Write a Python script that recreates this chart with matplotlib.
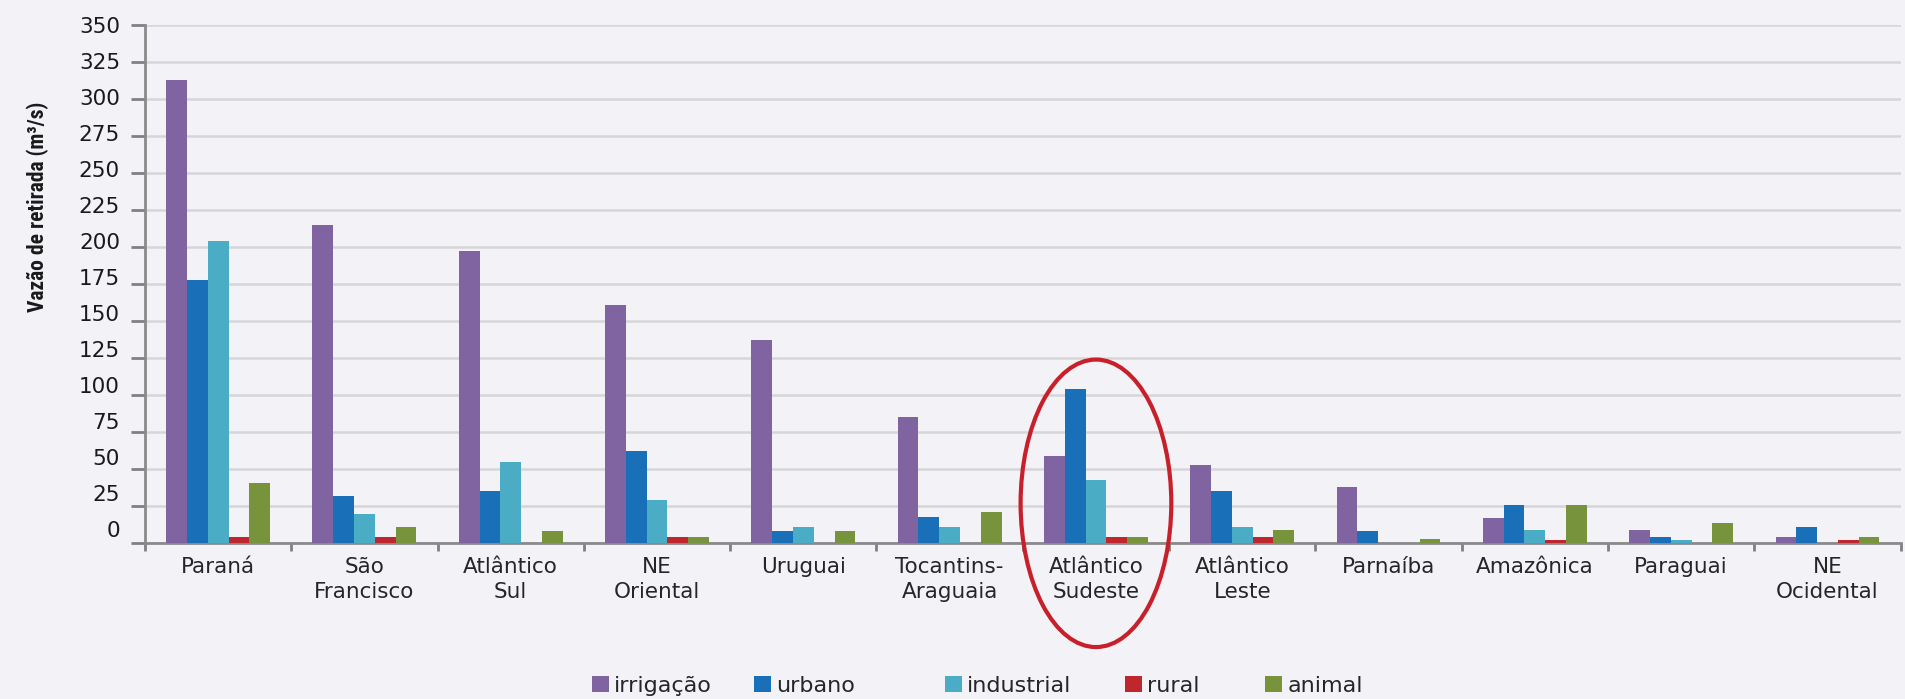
import matplotlib
matplotlib.use("Agg")
import matplotlib.pyplot as plt
import numpy as np
from matplotlib.patches import Ellipse, Patch
from matplotlib.ticker import FixedLocator
from matplotlib.transforms import ScaledTranslation
from matplotlib import font_manager

categories = ["Paraná", "São\nFrancisco", "Atlântico\nSul", "NE\nOriental", "Uruguai",
              "Tocantins-\nAraguaia", "Atlântico\nSudeste", "Atlântico\nLeste", "Parnaíba",
              "Amazônica", "Paraguai", "NE\nOcidental"]
series_names = ["irrigação", "urbano", "industrial", "rural", "animal"]
irrigacao = [313, 215, 197, 161, 137, 85, 59, 53, 38, 17, 9, 4.5]
urbano = [178, 32, 35, 62, 8, 18, 104, 35, 8, 26, 4.5, 11]
industrial = [204, 20, 55, 29, 11, 11, 43, 11, 0, 9, 2, 0]
rural = [4.5, 4.5, 0, 4.5, 0, 0, 4.5, 4.5, 0, 2, 0, 2.5]
animal = [41, 11, 8, 4.5, 8, 21, 4.5, 9, 3, 26, 13.5, 4.5]
y_ticks = list(range(0, 351, 25))
colors = ["#8064A2", "#1A70B8", "#4BACC6", "#C0262D", "#77933C"]

# pick a condensed font for the y label if available
avail = {f.name for f in font_manager.fontManager.ttflist}
label_family = None
for cand in ["Liberation Sans Narrow", "Roboto Condensed", "Open Sans Condensed",
             "DejaVu Sans Condensed", "Liberation Sans", "Roboto"]:
    if cand in avail:
        label_family = cand
        break
if label_family is None:
    label_family = "DejaVu Sans"
narrow = label_family in ("Liberation Sans Narrow", "Roboto Condensed",
                          "Open Sans Condensed", "DejaVu Sans Condensed")

bg = "#F3F2F7"
fig = plt.figure(figsize=(19.05, 6.99), dpi=100, facecolor=bg)
ax = fig.add_axes([0.0761, 0.2227, 0.9216, 0.742], facecolor=bg)

x = np.arange(len(categories))
w = 0.142
data = [irrigacao, urbano, industrial, rural, animal]
for i, (vals, name, c) in enumerate(zip(data, series_names, colors)):
    ax.bar(x + (i - 2) * w, vals, width=w, color=c, label=name, zorder=3)

ax.set_xlim(-0.5, len(categories) - 0.5)
ax.set_ylim(0, 350)
ax.set_yticks(y_ticks)
ax.set_yticklabels([str(t) for t in y_ticks], fontsize=15.5, color="#1a1a1a")
ax.grid(axis="y", color="#D6D6D6", linewidth=1.8, zorder=0)
ax.set_axisbelow(True)

ax.set_xticks(x)
ax.set_xticklabels(categories, fontsize=15.5, color="#262626", linespacing=1.3)
ax.xaxis.set_minor_locator(FixedLocator(np.arange(-0.5, len(categories), 1.0)))
ax.tick_params(axis="x", which="major", length=0, pad=10)
ax.tick_params(axis="x", which="minor", length=6, width=2, color="#808080")
ax.tick_params(axis="y", length=10, width=2, color="#808080", pad=8)

# labels in the reference drift upward toward the bottom of the scale
for lab, v in zip(ax.get_yticklabels(), y_ticks):
    shift_px = 14.0 * (1 - v / 350.0)
    lab.set_transform(lab.get_transform() +
                      ScaledTranslation(0, shift_px / 100.0, fig.dpi_scale_trans))

for s in ["top", "right"]:
    ax.spines[s].set_visible(False)
for s in ["left", "bottom"]:
    ax.spines[s].set_color("#8A8A8A")
    ax.spines[s].set_linewidth(2)

ax.set_ylabel("Vazão de retirada (m³/s)", fontsize=15.5 if narrow else 12.5,
              family=[label_family, "DejaVu Sans"], fontweight="bold",
              color="#1a1a1a")
ax.yaxis.set_label_coords(-0.0545, 0.648)

ell = Ellipse((6, 27), width=1.03, height=194, fill=False, edgecolor="#C8202A",
              linewidth=3, clip_on=False, zorder=5)
ax.add_patch(ell)

legend_x_px = [592, 754, 945, 1125, 1265]
for name, c, lx in zip(series_names, colors, legend_x_px):
    lg = fig.legend(handles=[Patch(facecolor=c, edgecolor="none", label=name)],
                    loc="center left", bbox_to_anchor=(lx / 1905.0, 0.019),
                    frameon=False, fontsize=16, handlelength=0.75, handleheight=0.75,
                    handletextpad=0.25, borderpad=0, borderaxespad=0)
    for t in lg.get_texts():
        t.set_color("#262626")

fig.savefig("out.png", dpi=100, facecolor=bg)
